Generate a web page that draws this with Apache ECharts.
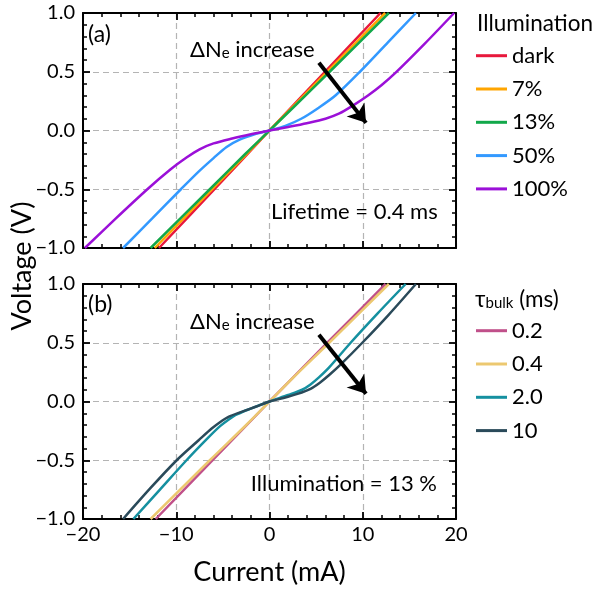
<!DOCTYPE html>
<html>
<head>
<meta charset="utf-8">
<script src="https://cdn.jsdelivr.net/npm/echarts@6/dist/echarts.min.js"></script>
<style>
html,body{margin:0;padding:0;background:#fff;}
#chart{width:597px;height:597px;}
</style>
</head>
<body>
<div id="chart"></div>
<script>
// ---------- data (current mA, voltage V) ----------
const topNames = ['dark', '7%', '13%', '50%', '100%'];
const bottomNames = ['0.2', '0.4', '2.0', '10'];

const darkIV = [[-11.85,-1],[-5.9,-0.5],[0,0],[5.95,0.5],[11.9,1]];
const ill7IV = [[-12.3,-1],[-6.15,-0.5],[0,0],[6.2,0.5],[12.4,1]];
const ill13IV = [[-12.75,-1],[-6.4,-0.5],[-2.6,-0.2],[0,0],[2.6,0.2],[6.45,0.5],[12.8,1]];
const ill50IV = [[-15.7,-1],[-12.6,-0.75],[-9.5,-0.5],[-7.6,-0.35],[-6.0,-0.235],[-4.6,-0.14],[-3.2,-0.078],[-1.6,-0.032],[0,0],
                 [1.7,0.04],[3.4,0.1],[5.2,0.19],[7.1,0.3],[9.7,0.5],[12.7,0.75],[15.7,1]];
const ill100IV = [[-19.8,-1],[-16.5,-0.75],[-13.1,-0.5],[-10.6,-0.33],[-8.9,-0.23],[-7.5,-0.16],[-6.0,-0.11],[-4.0,-0.068],[-2.0,-0.032],[0,0],
                  [2.0,0.03],[4.0,0.062],[6.0,0.1],[7.5,0.145],[8.9,0.21],[10.6,0.3],[12.0,0.385],[13.5,0.49],[16.6,0.735],[19.8,1]];

const tau02IV = [[-12.2,-1],[-6.1,-0.5],[0,0],[6.2,0.5],[12.45,1]];
const tau04IV = [[-12.75,-1],[-6.4,-0.5],[-2.5,-0.2],[0,0],[2.5,0.2],[6.4,0.5],[12.8,1]];
const tau2IV = [[-14.6,-1],[-11.75,-0.75],[-8.9,-0.5],[-6.6,-0.31],[-5.3,-0.21],[-4.4,-0.155],[-3.5,-0.11],[-2.0,-0.06],[0,0],
                [2.0,0.055],[3.5,0.1],[4.4,0.145],[5.3,0.205],[6.4,0.29],[8.7,0.5],[11.6,0.75],[14.6,1]];
const tau10IV = [[-15.7,-1],[-12.8,-0.74],[-9.95,-0.5],[-7.6,-0.33],[-6.2,-0.23],[-5.2,-0.17],[-4.4,-0.13],[-3.0,-0.088],[-1.5,-0.045],[0,0],
                 [1.5,0.03],[3.0,0.065],[4.4,0.108],[5.4,0.16],[6.4,0.225],[7.7,0.32],[9.95,0.5],[12.8,0.74],[15.7,1]];

const topArrow = [[10.35, 0.065], [5.3, 0.577]];
const bottomArrow = [[10.35, 0.065], [5.3, 0.569]];

const xTicks = {min: -20, max: 20, interval: 10};
const yTicks = {min: -1, max: 1, interval: 0.5};

// ---------- styling ----------
const FONT = 'Lato, "Open Sans", sans-serif';
const topColors = ['#e8183c', '#ffa500', '#12a84a', '#3399ff', '#9b10d8'];
const bottomColors = ['#c0508a', '#ecc870', '#1590a0', '#2a4a5a'];

function xAx(grid, pos, labels, split) {
  return {
    type: 'value', gridIndex: grid, position: pos,
    min: xTicks.min, max: xTicks.max, interval: xTicks.interval,
    axisLine: {show: true, onZero: false, lineStyle: {color: '#000', width: 2}},
    axisTick: {show: true, inside: true, length: 7, lineStyle: {color: '#000', width: 1.8}},
    minorTick: {show: true, splitNumber: 5, length: 4, lineStyle: {color: '#000', width: 1.5}},
    axisLabel: {show: labels, margin: 6, color: '#000', fontFamily: FONT, fontSize: 20,
      formatter: v => (v < 0 ? '\u2212' + Math.abs(v) : String(v))},
    splitLine: {show: split, lineStyle: {color: '#b4b4b4', type: [6, 4], width: 1.2}},
    minorSplitLine: {show: false}
  };
}
function yAx(grid, pos, labels, split) {
  return {
    type: 'value', gridIndex: grid, position: pos,
    min: yTicks.min, max: yTicks.max, interval: yTicks.interval,
    axisLine: {show: true, onZero: false, lineStyle: {color: '#000', width: 2}},
    axisTick: {show: true, inside: true, length: 7, lineStyle: {color: '#000', width: 1.8}},
    minorTick: {show: true, splitNumber: 5, length: 4, lineStyle: {color: '#000', width: 1.5}},
    axisLabel: {show: labels, margin: 8, color: '#000', fontFamily: FONT, fontSize: 20,
      formatter: v => (v < 0 ? '\u2212' : '') + Math.abs(v).toFixed(1)},
    splitLine: {show: split, lineStyle: {color: '#b4b4b4', type: [6, 4], width: 1.2}},
    minorSplitLine: {show: false}
  };
}

function lineSeries(name, data, color, gi) {
  return {
    name: name, type: 'line', data: data, xAxisIndex: gi * 2, yAxisIndex: gi * 2,
    smooth: 0.3, showSymbol: false, symbol: 'none',
    color: color, lineStyle: {color: color, width: 2.5}, z: 3
  };
}

const series = [];
const topData = [darkIV, ill7IV, ill13IV, ill50IV, ill100IV];
const bottomData = [tau02IV, tau04IV, tau2IV, tau10IV];
topNames.forEach((n, i) => series.push(lineSeries(n, topData[i], topColors[i], 0)));
bottomNames.forEach((n, i) => series.push(lineSeries(n, bottomData[i], bottomColors[i], 1)));

function arrowMark(coords) {
  return {
    silent: true, symbol: ['none', 'arrow'], symbolSize: 17,
    label: {show: false},
    itemStyle: {color: '#000'},
    lineStyle: {color: '#000', width: 4, type: 'solid'},
    emphasis: {disabled: true},
    data: [[{coord: coords[1]}, {coord: coords[0]}]]
  };
}
series[0].markLine = arrowMark(topArrow);
series[5].markLine = arrowMark(bottomArrow);

function txt(x, y, text, size, align, extra) {
  return Object.assign({
    type: 'text', x: x, y: y, z: 10,
    style: {text: text, fill: '#000', font: size + 'px ' + FONT, fontSize: size, fontFamily: FONT,
      textAlign: align, align: align, textVerticalAlign: 'middle', verticalAlign: 'middle'}
  }, extra || {});
}
function richTxt(x, y, text, size, subSize) {
  return {
    type: 'text', x: x, y: y, z: 10,
    style: {text: text, fill: '#000', textAlign: 'left', align: 'left', textVerticalAlign: 'middle', verticalAlign: 'middle',
      rich: {
        a: {fontSize: size, fontFamily: FONT, lineHeight: 26, verticalAlign: 'bottom', fill: '#000', color: '#000'},
        b: {fontSize: subSize, fontFamily: FONT, lineHeight: 13, verticalAlign: 'bottom', fill: '#000', color: '#000'}
      }}
  };
}

const option = {
  animation: false,
  backgroundColor: '#fff',
  grid: [
    {left: 83, top: 13, width: 373, height: 235},
    {left: 83, top: 284, width: 373, height: 235}
  ],
  xAxis: [xAx(0, 'bottom', false, true), xAx(0, 'top', false, false), xAx(1, 'bottom', true, true), xAx(1, 'top', false, false)],
  yAxis: [yAx(0, 'left', true, true), yAx(0, 'right', false, false), yAx(1, 'left', true, true), yAx(1, 'right', false, false)],
  legend: [
    {data: topNames, orient: 'vertical', left: 476, top: 43.7, padding: 0, itemWidth: 31, itemHeight: 3, icon: 'rect',
     itemGap: 9.3, itemTextGap: 6, selectedMode: false,
     textStyle: {fontFamily: FONT, fontSize: 22, color: '#000', lineHeight: 24}},
    {data: bottomNames, orient: 'vertical', left: 476, top: 318.7, padding: 0, itemWidth: 31, itemHeight: 3, icon: 'rect',
     itemGap: 9.3, itemTextGap: 6, selectedMode: false,
     textStyle: {fontFamily: FONT, fontSize: 22, color: '#000', lineHeight: 24}}
  ],
  graphic: [
    txt(88, 35, '(a)', 23, 'left'),
    txt(88, 305, '(b)', 23, 'left'),
    richTxt(190, 48, '{a|\u0394N}{b|e}{a| increase}', 22, 15),
    richTxt(190, 320, '{a|\u0394N}{b|e}{a| increase}', 22, 15),
    txt(271, 212, 'Lifetime = 0.4 ms', 22, 'left'),
    txt(437, 484, 'Illumination = 13 %', 22, 'right'),
    txt(477, 24, 'Illumination', 22.5, 'left'),
    richTxt(475, 298, '{a|\u03c4}{b|bulk}{a| (ms)}', 22.5, 15),
    txt(269.5, 572, 'Current (mA)', 27, 'center'),
    txt(22, 266, 'Voltage (V)', 27, 'center', {rotation: Math.PI / 2})
  ],
  series: series
};

const chart = echarts.init(document.getElementById('chart'), null, {renderer: 'canvas'});
chart.setOption(option);
</script>
</body>
</html>
